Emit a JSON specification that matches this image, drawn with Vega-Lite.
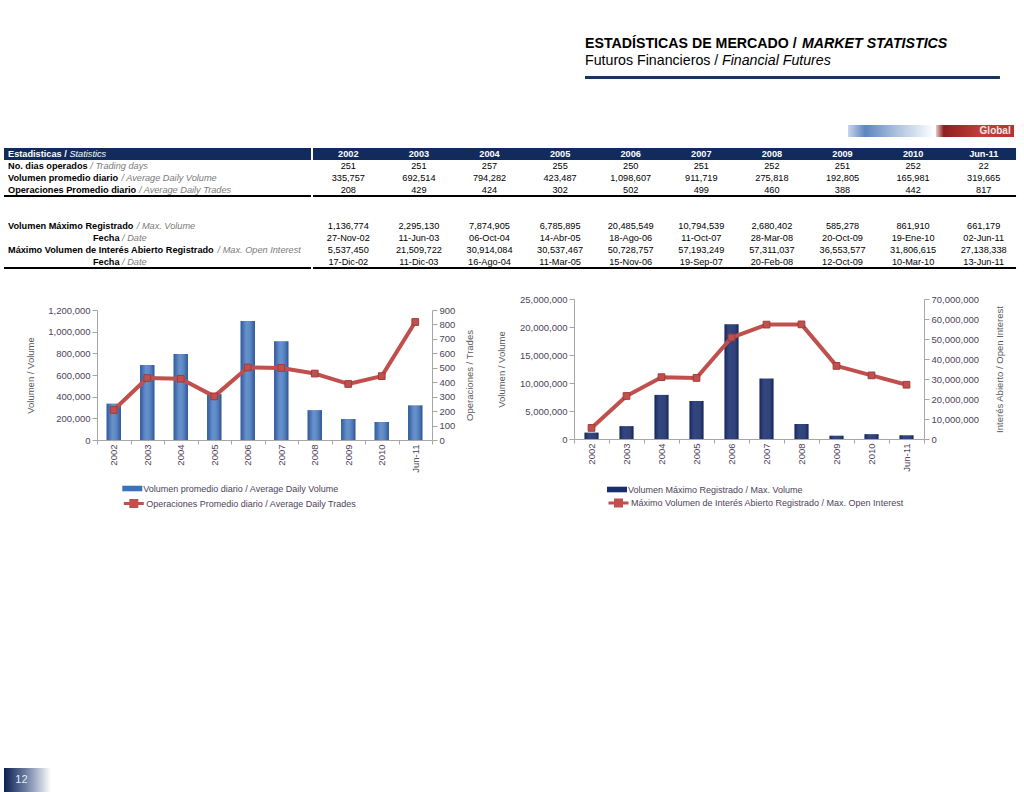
{
  "$schema": "https://vega.github.io/schema/vega-lite/v6.json",
  "background": "white",
  "padding": {"left": 3, "top": 35, "right": 0, "bottom": 0},
  "spacing": 0,
  "resolve": {"scale": {"fill": "independent", "stroke": "independent"}, "legend": {"fill": "independent", "stroke": "independent"}},
  "config": {
    "font": "Liberation Sans",
    "view": {"stroke": null},
    "axis": {"labelFont": "Liberation Sans", "labelFontSize": 9.5, "labelColor": "#4d4358", "titleFont": "Liberation Sans", "titleFontSize": 9.5, "titleFontWeight": "normal", "titleColor": "#595959", "domainColor": "#a6a6a6", "tickColor": "#a6a6a6", "grid": false, "tickSize": 5},
    "legend": {"labelFont": "Liberation Sans", "labelFontSize": 9, "labelColor": "#4d4358", "labelLimit": 500, "labelOffset": 1},
    "text": {"font": "Liberation Sans"}
  },
  "datasets": {
    "stats": [
      {"year": "2002", "days": 251, "vol": 335757, "trades": 208, "maxvol": 1136774, "maxvolDate": "27-Nov-02", "maxoi": 5537450, "maxoiDate": "17-Dic-02"},
      {"year": "2003", "days": 251, "vol": 692514, "trades": 429, "maxvol": 2295130, "maxvolDate": "11-Jun-03", "maxoi": 21509722, "maxoiDate": "11-Dic-03"},
      {"year": "2004", "days": 257, "vol": 794282, "trades": 424, "maxvol": 7874905, "maxvolDate": "06-Oct-04", "maxoi": 30914084, "maxoiDate": "16-Ago-04"},
      {"year": "2005", "days": 255, "vol": 423487, "trades": 302, "maxvol": 6785895, "maxvolDate": "14-Abr-05", "maxoi": 30537467, "maxoiDate": "11-Mar-05"},
      {"year": "2006", "days": 250, "vol": 1098607, "trades": 502, "maxvol": 20485549, "maxvolDate": "18-Ago-06", "maxoi": 50728757, "maxoiDate": "15-Nov-06"},
      {"year": "2007", "days": 251, "vol": 911719, "trades": 499, "maxvol": 10794539, "maxvolDate": "11-Oct-07", "maxoi": 57193249, "maxoiDate": "19-Sep-07"},
      {"year": "2008", "days": 252, "vol": 275818, "trades": 460, "maxvol": 2680402, "maxvolDate": "28-Mar-08", "maxoi": 57311037, "maxoiDate": "20-Feb-08"},
      {"year": "2009", "days": 251, "vol": 192805, "trades": 388, "maxvol": 585278, "maxvolDate": "20-Oct-09", "maxoi": 36553577, "maxoiDate": "12-Oct-09"},
      {"year": "2010", "days": 252, "vol": 165981, "trades": 442, "maxvol": 861910, "maxvolDate": "19-Ene-10", "maxoi": 31806615, "maxoiDate": "10-Mar-10"},
      {"year": "Jun-11", "days": 22, "vol": 319665, "trades": 817, "maxvol": 661179, "maxvolDate": "02-Jun-11", "maxoi": 27138338, "maxoiDate": "13-Jun-11"}
    ],
    "labels": [
      {"r": "h", "es": "Estadisticas /", "en": "Statistics"},
      {"r": "days", "es": "No. dias operados", "en": "/ Trading days"},
      {"r": "vol", "es": "Volumen promedio diario", "en": "/ Average Daily Volume"},
      {"r": "trades", "es": "Operaciones Promedio diario", "en": "/ Average Daily Trades"},
      {"r": "maxvol", "es": "Volumen Máximo Registrado", "en": "/ Max. Volume"},
      {"r": "maxvolDate", "es": "Fecha", "en": "/ Date"},
      {"r": "maxoi", "es": "Máximo Volumen de Interés Abierto Registrado", "en": "/ Max. Open Interest"},
      {"r": "maxoiDate", "es": "Fecha", "en": "/ Date"}
    ]
  },
  "vconcat": [
    {
      "hconcat": [
        {"width": 579, "height": 102, "data": {"values": [{}]}, "mark": {"type": "text", "text": ""}, "encoding": {}},
        {
          "width": 430, "height": 102,
          "data": {"values": [
            {"k": "t1", "a": "ESTADÍSTICAS DE MERCADO /", "b": "MARKET STATISTICS"},
            {"k": "t2", "a": "Futuros Financieros /", "b": "Financial Futures"}
          ]},
          "encoding": {
            "y": {"field": "k", "type": "nominal", "scale": {"domain": ["t1", "t2", "line", "g1", "g2", "global"], "paddingInner": 0, "paddingOuter": 0}, "axis": null},
            "x": {"datum": 0, "type": "quantitative", "scale": {"domain": [0, 1]}, "axis": null}
          },
          "layer": [
            {"transform": [{"filter": "datum.k=='t1'"}], "mark": {"type": "text", "align": "left", "fontSize": 14.2, "fontWeight": "bold", "color": "#000000"}, "encoding": {"text": {"field": "a"}}},
            {"transform": [{"filter": "datum.k=='t1'"}], "mark": {"type": "text", "align": "left", "fontSize": 14.2, "fontWeight": "bold", "fontStyle": "italic", "dx": 217, "color": "#000000"}, "encoding": {"text": {"field": "b"}}},
            {"transform": [{"filter": "datum.k=='t2'"}], "mark": {"type": "text", "align": "left", "fontSize": 14.2, "color": "#000000"}, "encoding": {"text": {"field": "a"}}},
            {"transform": [{"filter": "datum.k=='t2'"}], "mark": {"type": "text", "align": "left", "fontSize": 14.2, "fontStyle": "italic", "dx": 137, "color": "#000000"}, "encoding": {"text": {"field": "b"}}},
            {"data": {"values": [{"k": "line"}]}, "mark": {"type": "rule", "color": "#17365d", "strokeWidth": 3}, "encoding": {"y": {"field": "k", "type": "nominal", "bandPosition": 0.5, "scale": {"domain": ["t1", "t2", "line", "g1", "g2", "global"], "paddingInner": 0, "paddingOuter": 0}, "axis": null}, "x2": {"datum": 0.965}}},
            {"data": {"values": [{"k": "global"}]}, "mark": {"type": "rect", "height": {"band": 0.7}, "yOffset": 2.5, "fill": {"gradient": "linear", "x1": 0, "y1": 0, "x2": 1, "y2": 0, "stops": [{"offset": 0, "color": "#c9d7ea"}, {"offset": 0.2, "color": "#5d85bf"}, {"offset": 0.55, "color": "#a9bfdc"}, {"offset": 1, "color": "#ffffff"}]}}, "encoding": {"x": {"datum": 0.6116, "type": "quantitative"}, "x2": {"datum": 0.8116}}},
            {"data": {"values": [{"k": "global"}]}, "mark": {"type": "rect", "height": {"band": 0.7}, "yOffset": 2.5, "fill": {"gradient": "linear", "x1": 0, "y1": 0, "x2": 1, "y2": 0, "stops": [{"offset": 0, "color": "#e9c9c9"}, {"offset": 0.1, "color": "#8e1f1f"}, {"offset": 0.6, "color": "#c2403c"}, {"offset": 1, "color": "#b53230"}]}}, "encoding": {"x": {"datum": 0.8163, "type": "quantitative"}, "x2": {"datum": 0.9977}}},
            {"data": {"values": [{"k": "global", "t": "Global"}]}, "mark": {"type": "text", "align": "right", "fontSize": 10, "fontWeight": "bold", "yOffset": 2.5, "color": "#f0e6e6"}, "encoding": {"x": {"datum": 0.99, "type": "quantitative"}, "text": {"field": "t"}}}
          ]
        }
      ],
      "spacing": 0
    },
    {"width": 1, "height": 10, "data": {"values": [{}]}, "mark": {"type": "text", "text": ""}, "encoding": {}},
    {
      "hconcat": [
        {
          "width": 307, "height": 120,
          "data": {"name": "labels"},
          "encoding": {
            "y": {"field": "r", "type": "nominal", "scale": {"domain": ["h", "days", "vol", "trades", "b1", "b2", "maxvol", "maxvolDate", "maxoi", "maxoiDate"], "paddingInner": 0, "paddingOuter": 0}, "axis": null},
            "x": {"datum": 0, "type": "quantitative", "scale": {"domain": [0, 1]}, "axis": null}
          },
          "layer": [
            {"data": {"values": [{"r": "h"}]}, "mark": {"type": "rect", "color": "#112b5c"}, "encoding": {"x2": {"datum": 1}}},
            {"data": {"values": [{"r": "trades"}, {"r": "maxoiDate"}]}, "mark": {"type": "rule", "color": "#000000", "strokeWidth": 2}, "encoding": {"y": {"field": "r", "type": "nominal", "bandPosition": 1, "scale": {"domain": ["h", "days", "vol", "trades", "b1", "b2", "maxvol", "maxvolDate", "maxoi", "maxoiDate"], "paddingInner": 0, "paddingOuter": 0}, "axis": null}, "x2": {"datum": 1}}},
            {"transform": [{"filter": "datum.r=='h'"}], "mark": {"type": "text", "align": "left", "dx": 4, "fontSize": 9.2, "fontWeight": "bold", "color": "#ffffff"}, "encoding": {"text": {"field": "es"}}},
            {"transform": [{"filter": "datum.r=='h'"}], "mark": {"type": "text", "align": "left", "dx": 65.4, "fontSize": 9.2, "fontStyle": "italic", "color": "#ffffff"}, "encoding": {"text": {"field": "en"}}},
            {"transform": [{"filter": "datum.r!='h' && datum.es!='Fecha'"}], "mark": {"type": "text", "align": "left", "dx": 4, "fontSize": 9.2, "fontWeight": "bold", "color": "#000000"}, "encoding": {"text": {"field": "es"}}},
            {"transform": [{"filter": "datum.es=='Fecha'"}], "mark": {"type": "text", "align": "left", "dx": 89, "fontSize": 9.2, "fontWeight": "bold", "color": "#000000"}, "encoding": {"text": {"field": "es"}}},
            {"transform": [{"filter": "datum.r=='days'"}], "mark": {"type": "text", "align": "left", "dx": 86.3, "fontSize": 9.2, "fontStyle": "italic", "color": "#7a7a7a"}, "encoding": {"text": {"field": "en"}}},
            {"transform": [{"filter": "datum.r=='vol'"}], "mark": {"type": "text", "align": "left", "dx": 117.5, "fontSize": 9.2, "fontStyle": "italic", "color": "#7a7a7a"}, "encoding": {"text": {"field": "en"}}},
            {"transform": [{"filter": "datum.r=='trades'"}], "mark": {"type": "text", "align": "left", "dx": 134.9, "fontSize": 9.2, "fontStyle": "italic", "color": "#7a7a7a"}, "encoding": {"text": {"field": "en"}}},
            {"transform": [{"filter": "datum.r=='maxvol'"}], "mark": {"type": "text", "align": "left", "dx": 132.8, "fontSize": 9.2, "fontStyle": "italic", "color": "#7a7a7a"}, "encoding": {"text": {"field": "en"}}},
            {"transform": [{"filter": "datum.r=='maxoi'"}], "mark": {"type": "text", "align": "left", "dx": 213.6, "fontSize": 9.2, "fontStyle": "italic", "color": "#7a7a7a"}, "encoding": {"text": {"field": "en"}}},
            {"transform": [{"filter": "datum.es=='Fecha'"}], "mark": {"type": "text", "align": "left", "dx": 118.1, "fontSize": 9.2, "fontStyle": "italic", "color": "#7a7a7a"}, "encoding": {"text": {"field": "en"}}}
          ]
        },
        {
          "width": 706, "height": 120,
          "data": {"name": "stats"},
          "layer": [
            {"data": {"values": [{"r": "h"}]}, "mark": {"type": "rect", "color": "#112b5c"}, "encoding": {"y": {"field": "r", "type": "nominal", "scale": {"domain": ["h", "days", "vol", "trades", "b1", "b2", "maxvol", "maxvolDate", "maxoi", "maxoiDate"], "paddingInner": 0, "paddingOuter": 0}, "axis": null}, "x": {"datum": 0, "type": "quantitative", "scale": {"domain": [0, 1]}, "axis": null}, "x2": {"datum": 0.9958}}},
            {"data": {"values": [{"r": "trades"}, {"r": "maxoiDate"}]}, "mark": {"type": "rule", "color": "#000000", "strokeWidth": 2}, "encoding": {"y": {"field": "r", "type": "nominal", "bandPosition": 1, "scale": {"domain": ["h", "days", "vol", "trades", "b1", "b2", "maxvol", "maxvolDate", "maxoi", "maxoiDate"], "paddingInner": 0, "paddingOuter": 0}, "axis": null}, "x": {"datum": 0, "type": "quantitative", "scale": {"domain": [0, 1]}, "axis": null}, "x2": {"datum": 0.9958}}},
            {"mark": {"type": "text", "fontSize": 9.2, "fontWeight": "bold", "color": "#ffffff"}, "encoding": {"x": {"field": "year", "type": "nominal", "scale": {"domain": ["2002", "2003", "2004", "2005", "2006", "2007", "2008", "2009", "2010", "Jun-11"], "paddingInner": 0, "paddingOuter": 0}, "axis": null}, "y": {"datum": "h", "type": "nominal", "scale": {"domain": ["h", "days", "vol", "trades", "b1", "b2", "maxvol", "maxvolDate", "maxoi", "maxoiDate"], "paddingInner": 0, "paddingOuter": 0}, "axis": null}, "text": {"field": "year"}}},
            {"transform": [{"fold": ["days", "vol", "trades", "maxvol", "maxoi"]}], "mark": {"type": "text", "fontSize": 9.2, "color": "#000000"}, "encoding": {"x": {"field": "year", "type": "nominal", "scale": {"domain": ["2002", "2003", "2004", "2005", "2006", "2007", "2008", "2009", "2010", "Jun-11"], "paddingInner": 0, "paddingOuter": 0}, "axis": null}, "y": {"field": "key", "type": "nominal", "scale": {"domain": ["h", "days", "vol", "trades", "b1", "b2", "maxvol", "maxvolDate", "maxoi", "maxoiDate"], "paddingInner": 0, "paddingOuter": 0}, "axis": null}, "text": {"field": "value", "type": "quantitative", "format": ","}}},
            {"transform": [{"fold": ["maxvolDate", "maxoiDate"]}], "mark": {"type": "text", "fontSize": 9.2, "color": "#000000"}, "encoding": {"x": {"field": "year", "type": "nominal", "scale": {"domain": ["2002", "2003", "2004", "2005", "2006", "2007", "2008", "2009", "2010", "Jun-11"], "paddingInner": 0, "paddingOuter": 0}, "axis": null}, "y": {"field": "key", "type": "nominal", "scale": {"domain": ["h", "days", "vol", "trades", "b1", "b2", "maxvol", "maxvolDate", "maxoi", "maxoiDate"], "paddingInner": 0, "paddingOuter": 0}, "axis": null}, "text": {"field": "value", "type": "nominal"}}}
          ],
          "resolve": {"scale": {"x": "independent"}}
        }
      ],
      "spacing": 0
    },
    {"width": 1, "height": 25, "data": {"values": [{}]}, "mark": {"type": "text", "text": ""}, "encoding": {}},
    {
      "hconcat": [
        {"width": 21, "height": 10, "data": {"values": [{}]}, "mark": {"type": "text", "text": ""}, "encoding": {}},
        {
          "vconcat": [
            {"width": 1, "height": 2, "data": {"values": [{}]}, "mark": {"type": "text", "text": ""}, "encoding": {}},
            {
              "width": 335, "height": 130,
              "data": {"name": "stats"},
              "encoding": {"x": {"field": "year", "type": "nominal", "scale": {"domain": ["2002", "2003", "2004", "2005", "2006", "2007", "2008", "2009", "2010", "Jun-11"], "paddingInner": 0, "paddingOuter": 0}, "axis": {"title": null, "labelAngle": -90, "labelPadding": 0, "tickBand": "extent", "tickSize": 4}}},
              "layer": [
                {"mark": {"type": "bar", "width": {"band": 0.43}}, "encoding": {"y": {"field": "vol", "type": "quantitative", "scale": {"domain": [0, 1200000]}, "axis": {"title": "Volumen / Volume", "values": [0, 200000, 400000, 600000, 800000, 1000000, 1200000], "format": ",d", "titlePadding": 12}}, "fill": {"datum": "Volumen promedio diario / Average Daily Volume", "type": "nominal", "scale": {"range": ["#3c72bd"]}, "legend": {"orient": "none", "legendX": 25.3, "legendY": 179.5, "title": null, "symbolType": "M-1,-0.28H1V0.28H-1Z", "symbolSize": 400, "symbolStrokeWidth": 0}}}},
                {"mark": {"type": "bar", "width": {"band": 0.43}, "fill": {"gradient": "linear", "x1": 0, "y1": 0, "x2": 1, "y2": 0, "stops": [{"offset": 0, "color": "rgba(0,0,40,0.22)"}, {"offset": 0.4, "color": "rgba(255,255,255,0.22)"}, {"offset": 0.6, "color": "rgba(255,255,255,0.18)"}, {"offset": 1, "color": "rgba(0,0,40,0.28)"}]}}, "encoding": {"y": {"field": "vol", "type": "quantitative", "scale": {"domain": [0, 1200000]}, "axis": null}}},
                {"mark": {"type": "line", "strokeWidth": 4, "strokeJoin": "round"}, "encoding": {"y": {"field": "trades", "type": "quantitative", "scale": {"domain": [0, 900]}, "axis": {"orient": "right", "title": "Operaciones / Trades", "values": [0, 100, 200, 300, 400, 500, 600, 700, 800, 900], "format": ",d", "titleAngle": 270, "titlePadding": 20}}, "stroke": {"datum": "Operaciones Promedio diario / Average Daily Trades", "type": "nominal", "scale": {"range": ["#c0504d"]}, "legend": {"orient": "none", "legendX": 25.3, "legendY": 193, "title": null, "symbolType": "M-1,0H1M-0.3,-0.3H0.3V0.3H-0.3Z", "symbolSize": 400, "symbolStrokeWidth": 3, "symbolFillColor": "#c0504d"}}}},
                {"mark": {"type": "point", "shape": "square", "filled": true, "size": 45, "color": "#c0504d", "stroke": "#a33a37", "strokeWidth": 1, "opacity": 1}, "encoding": {"y": {"field": "trades", "type": "quantitative", "scale": {"domain": [0, 900]}, "axis": null}}}
              ],
              "resolve": {"scale": {"y": "independent"}}
            }
          ],
          "spacing": 0
        },
        {"width": 20.4, "height": 10, "data": {"values": [{}]}, "mark": {"type": "text", "text": ""}, "encoding": {}},
        {
          "width": 350, "height": 140,
          "data": {"name": "stats"},
          "encoding": {"x": {"field": "year", "type": "nominal", "scale": {"domain": ["2002", "2003", "2004", "2005", "2006", "2007", "2008", "2009", "2010", "Jun-11"], "paddingInner": 0, "paddingOuter": 0}, "axis": {"title": null, "labelAngle": -90, "labelPadding": 0, "tickBand": "extent", "tickSize": 4}}},
          "layer": [
            {"mark": {"type": "bar", "width": {"band": 0.4}}, "encoding": {"y": {"field": "maxvol", "type": "quantitative", "scale": {"domain": [0, 25000000]}, "axis": {"title": "Volumen / Volume", "values": [0, 5000000, 10000000, 15000000, 20000000, 25000000], "format": ",d", "titlePadding": 13}}, "fill": {"datum": "Volumen Máximo Registrado / Max. Volume", "type": "nominal", "scale": {"range": ["#172d6e"]}, "legend": {"orient": "none", "legendX": 33, "legendY": 180.5, "title": null, "symbolType": "M-1,-0.28H1V0.28H-1Z", "symbolSize": 400, "symbolStrokeWidth": 0}}}},
            {"mark": {"type": "bar", "width": {"band": 0.4}, "fill": {"gradient": "linear", "x1": 0, "y1": 0, "x2": 1, "y2": 0, "stops": [{"offset": 0, "color": "rgba(0,0,20,0.25)"}, {"offset": 0.4, "color": "rgba(255,255,255,0.12)"}, {"offset": 0.6, "color": "rgba(255,255,255,0.1)"}, {"offset": 1, "color": "rgba(0,0,20,0.3)"}]}}, "encoding": {"y": {"field": "maxvol", "type": "quantitative", "scale": {"domain": [0, 25000000]}, "axis": null}}},
            {"mark": {"type": "line", "strokeWidth": 4, "strokeJoin": "round"}, "encoding": {"y": {"field": "maxoi", "type": "quantitative", "scale": {"domain": [0, 70000000]}, "axis": {"orient": "right", "title": "Interés Abierto / Open Interest", "values": [0, 10000000, 20000000, 30000000, 40000000, 50000000, 60000000, 70000000], "format": ",d", "titleAngle": 270, "titlePadding": 26}}, "stroke": {"datum": "Máximo Volumen de Interés Abierto Registrado / Max. Open Interest", "type": "nominal", "scale": {"range": ["#c0504d"]}, "legend": {"orient": "none", "legendX": 33, "legendY": 192.5, "title": null, "symbolType": "M-1,0H1M-0.3,-0.3H0.3V0.3H-0.3Z", "symbolSize": 400, "symbolStrokeWidth": 3, "symbolFillColor": "#c0504d"}}}},
            {"mark": {"type": "point", "shape": "square", "filled": true, "size": 45, "color": "#c0504d", "stroke": "#a33a37", "strokeWidth": 1, "opacity": 1}, "encoding": {"y": {"field": "maxoi", "type": "quantitative", "scale": {"domain": [0, 70000000]}, "axis": null}}}
          ],
          "resolve": {"scale": {"y": "independent"}}
        }
      ],
      "spacing": 0,
      "resolve": {"scale": {"fill": "independent", "stroke": "independent"}, "legend": {"fill": "independent", "stroke": "independent"}}
    },
    {"width": 1, "height": 255, "data": {"values": [{}]}, "mark": {"type": "text", "text": ""}, "encoding": {}},
    {
      "width": 47, "height": 24,
      "data": {"values": [{"p": "12"}]},
      "encoding": {
        "y": {"field": "p", "type": "nominal", "scale": {"paddingInner": 0, "paddingOuter": 0}, "axis": null},
        "x": {"datum": 0, "type": "quantitative", "scale": {"domain": [0, 1]}, "axis": null}
      },
      "layer": [
        {"mark": {"type": "rect", "fill": {"gradient": "linear", "x1": 0, "y1": 0, "x2": 1, "y2": 0, "stops": [{"offset": 0, "color": "#0c1f4f"}, {"offset": 0.45, "color": "#6a7ba0"}, {"offset": 1, "color": "#ffffff"}]}}, "encoding": {"x2": {"datum": 1}}},
        {"mark": {"type": "text", "fontSize": 11, "color": "#e6eaf2"}, "encoding": {"x": {"datum": 0.37, "type": "quantitative"}, "text": {"field": "p"}}}
      ]
    }
  ]
}
